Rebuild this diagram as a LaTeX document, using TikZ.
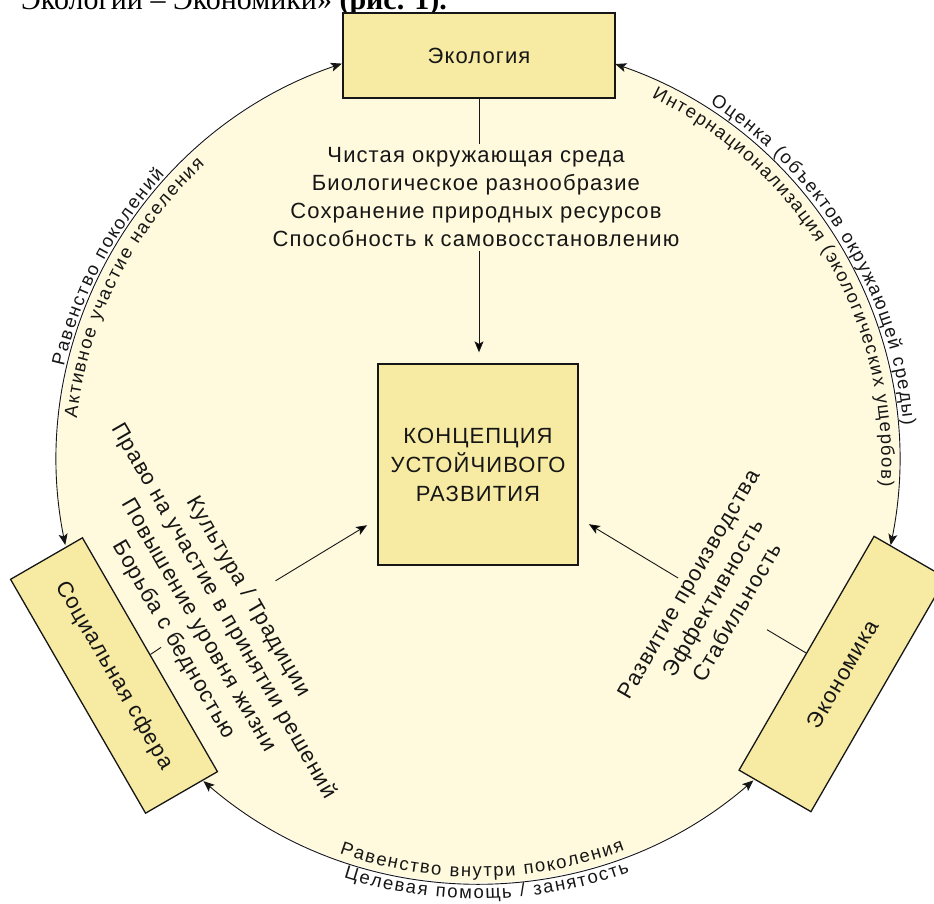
\documentclass[tikz,border=0pt]{standalone}
\usepackage{fontspec}
\setmainfont{Liberation Sans}[LetterSpace=5]
\newfontfamily\arcfont{Liberation Sans}
\newfontfamily\hdrfont{Liberation Serif}
\usetikzlibrary{arrows.meta,decorations.text,calc}
\definecolor{boxfill}{RGB}{247,235,163}
\definecolor{disc}{RGB}{255,250,221}
\definecolor{inkc}{RGB}{22,22,22}
\begin{document}
\begin{tikzpicture}[x=1pt,y=1pt,
  boxnode/.style={draw=inkc,line width=1.3pt,fill=boxfill,inner sep=0pt,text=inkc,font=\fontsize{22}{29}\selectfont,align=center},
  lbl/.style={inner sep=4pt,text=inkc,font=\fontsize{22}{28}\selectfont,align=center},
  conn/.style={draw=inkc,line width=0.9pt},
  onetip/.style={-{Stealth[length=11pt,width=9pt,inset=2.5pt]}},
  twotips/.style={{Stealth[length=11pt,width=9pt,inset=2.5pt]}-{Stealth[length=11pt,width=9pt,inset=2.5pt]}},
  arclbl/.style={decorate,decoration={text along path,text align={fit to path},text color=inkc,text={|\arcfont\fontsize{18.5}{18.5}\selectfont|#1}}}
]
\useasboundingbox (0,0) rectangle (934,904);
\clip (0,0) rectangle (934,904);
\coordinate (O) at (478,442);
\fill[disc] (O) circle[radius=421];

% header line (cut at top)
\node[anchor=base east,inner sep=0pt,text=black,font=\hdrfont\fontsize{30}{30}\selectfont] (hdr) at (447,894) {Экологии – Экономики» \textbf{(рис. 1).}};

% boxes
\node[boxnode,minimum width=272pt,minimum height=85pt] (eco) at (479,848.5) {Экология};
\node[boxnode,minimum width=200pt,minimum height=201pt] (concept) at (478,439.5) {КОНЦЕПЦИЯ\\УСТОЙЧИВОГО\\РАЗВИТИЯ};
\node[boxnode,rotate=-60,minimum width=270pt,minimum height=83pt] (soc) at (114,228.5) {Социальная сфера};
\node[boxnode,rotate=60,minimum width=270pt,minimum height=83pt] (econ) at (842.5,230) {Экономика};

% text blocks
\node[lbl] (ecotext) at (476,706.5) {Чистая окружающая среда\\Биологическое разнообразие\\Сохранение природных ресурсов\\Способность к самовосстановлению};
\node[lbl,rotate=-60,font=\fontsize{22}{28.8}\selectfont] (soctext) at (211,285.5) {Культура / Традиции\\Право на участие в принятии решений\\Повышение уровня жизни\\Борьба с бедностью};
\node[lbl,rotate=60] (econtext) at (712.7,306) {Развитие производства\\Эффективность\\Стабильность};

% arc end points on the circle
\coordinate (sTop) at ($(O)+(191.36:421)$);
\coordinate (eL) at ($(O)+(108.87:421)$);
\coordinate (eR) at ($(O)+(70.96:421)$);
\coordinate (nTop) at ($(O)+(-11.39:421)$);
\coordinate (sBot) at ($(O)+(229.3:421)$);
\coordinate (nBot) at ($(O)+(310.85:421)$);

\draw[conn,twotips] (sTop) arc[start angle=191.36,end angle=108.87,radius=421];
\draw[conn,twotips] (eR) arc[start angle=70.96,end angle=-11.39,radius=421];
\draw[conn,twotips] (sBot) arc[start angle=229.3,end angle=310.85,radius=421];

% arc labels
\path[arclbl={Равенство поколений}] ($(O)+(167:425)$) arc[start angle=167,end angle=137.5,radius=425];
\path[arclbl={Активное участие населения}] ($(O)+(173.8:403.5)$) arc[start angle=173.8,end angle=132.6,radius=403.5];
\path[arclbl={Оценка (объектов окружающей среды)}] ($(O)+(57.1:427)$) arc[start angle=57.1,end angle=4.9,radius=427];
\path[arclbl={Интернационализация (экологических ущербов)}] ($(O)+(64.5:403.5)$) arc[start angle=64.5,end angle=-3.5,radius=403.5];
\path[arclbl={Равенство внутри поколения}] ($(O)+(250.5:415)$) arc[start angle=250.5,end angle=290.7,radius=415];
\path[arclbl={Целевая помощь / занятость}] ($(O)+(252.1:437)$) arc[start angle=252.1,end angle=290.3,radius=437];

% connectors
\draw[conn] (eco.south) -- (eco.south |- ecotext.north);
\draw[conn,onetip,shorten >=11pt] (eco.south |- ecotext.south) -- (eco.south |- concept.north);
\draw[conn] (soc.north) -- (soctext.south);
\draw[conn,onetip,shorten <=17pt,shorten >=12pt] (soctext.north) -- ([yshift=-54.5pt]concept.west);
\draw[conn,shorten >=23pt] (econ.north) -- (econtext.south);
\draw[conn,onetip,shorten >=12pt] (econtext.north) -- ([yshift=-53.5pt]concept.east);
\end{tikzpicture}
\end{document}
